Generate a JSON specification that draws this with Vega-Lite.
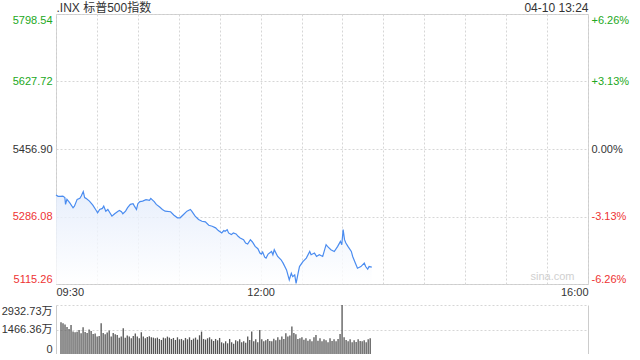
{
"$schema": "https://vega.github.io/schema/vega-lite/v6.json",
"padding": {"left": 1, "top": 0, "right": 0, "bottom": 0},
"background": "white",
"spacing": 21,
"bounds": "flush",
"config": {
  "font": "Liberation Sans, Noto Sans CJK SC",
  "axis": {"labelFont": "Liberation Sans, Noto Sans CJK SC", "labelFontSize": 11, "labelColor": "#333333", "ticks": false, "title": null, "gridColor": "#d6d6d6", "gridDash": [2, 2], "domainColor": "#cccccc"},
  "view": {"stroke": null}
},
"datasets": {
  "price": [
    {"t":0,"v":5340.4},{"t":1.5,"v":5337.1},{"t":3,"v":5337.1},{"t":5,"v":5337.8},{"t":6.5,"v":5333.8},{"t":7,"v":5316.7},{"t":8,"v":5329.4},{"t":10,"v":5321.0},{"t":12.5,"v":5308.3},{"t":13.5,"v":5312.3},{"t":15.5,"v":5329.4},{"t":17.5,"v":5332.0},{"t":18.5,"v":5337.8},{"t":20,"v":5349.1},{"t":21,"v":5333.8},{"t":22,"v":5332.0},{"t":24.5,"v":5325.1},{"t":27,"v":5314.9},{"t":29.5,"v":5301.4},{"t":30.5,"v":5295.5},{"t":32,"v":5303.9},{"t":34,"v":5306.5},{"t":35,"v":5312.3},{"t":36.5,"v":5299.6},{"t":38,"v":5303.9},{"t":39.5,"v":5295.5},{"t":41,"v":5286.9},{"t":43,"v":5293.0},{"t":45.5,"v":5299.6},{"t":46.5,"v":5301.4},{"t":48,"v":5298.1},{"t":49,"v":5293.0},{"t":51,"v":5299.6},{"t":52.5,"v":5308.3},{"t":54.5,"v":5316.7},{"t":56.5,"v":5318.5},{"t":57.5,"v":5312.3},{"t":59,"v":5303.9},{"t":60,"v":5318.5},{"t":61.5,"v":5323.6},{"t":63.5,"v":5325.1},{"t":66,"v":5328.7},{"t":68.5,"v":5326.9},{"t":69.5,"v":5332.0},{"t":71,"v":5326.9},{"t":72,"v":5323.6},{"t":73.5,"v":5316.7},{"t":76,"v":5310.0},{"t":78,"v":5303.9},{"t":80,"v":5299.6},{"t":84,"v":5298.1},{"t":86.5,"v":5289.4},{"t":89,"v":5282.8},{"t":91,"v":5282.8},{"t":93.5,"v":5291.2},{"t":96,"v":5299.6},{"t":98.5,"v":5303.9},{"t":99.5,"v":5299.6},{"t":102,"v":5286.9},{"t":104.5,"v":5278.4},{"t":107,"v":5274.1},{"t":109.5,"v":5272.6},{"t":112,"v":5263.9},{"t":114.5,"v":5261.4},{"t":117,"v":5257.3},{"t":119,"v":5250.4},{"t":121.5,"v":5244.5},{"t":123,"v":5250.4},{"t":124,"v":5248.6},{"t":125.5,"v":5252.9},{"t":126.5,"v":5244.5},{"t":128.5,"v":5240.2},{"t":130,"v":5244.5},{"t":132,"v":5242.0},{"t":133.5,"v":5235.9},{"t":135,"v":5231.8},{"t":137.5,"v":5227.4},{"t":139,"v":5219.0},{"t":140.5,"v":5216.5},{"t":142.5,"v":5227.4},{"t":144,"v":5221.6},{"t":146,"v":5210.4},{"t":148,"v":5204.5},{"t":149.5,"v":5193.5},{"t":150.5,"v":5191.0},{"t":151.5,"v":5196.1},{"t":153,"v":5183.3},{"t":154,"v":5180.8},{"t":155.5,"v":5191.0},{"t":158,"v":5197.6},{"t":159,"v":5189.2},{"t":160,"v":5201.9},{"t":162.5,"v":5184.9},{"t":165,"v":5176.5},{"t":166.5,"v":5168.0},{"t":169,"v":5151.0},{"t":171,"v":5125.5},{"t":172.5,"v":5142.5},{"t":173.5,"v":5133.9},{"t":175,"v":5138.2},{"t":176,"v":5117.0},{"t":177.5,"v":5142.5},{"t":178.5,"v":5159.4},{"t":181,"v":5172.1},{"t":183.5,"v":5180.8},{"t":186,"v":5197.6},{"t":187,"v":5189.2},{"t":189.5,"v":5193.5},{"t":191,"v":5184.9},{"t":193,"v":5189.2},{"t":195.5,"v":5184.9},{"t":198,"v":5214.7},{"t":199,"v":5210.4},{"t":201.5,"v":5201.9},{"t":204,"v":5197.6},{"t":206.5,"v":5210.4},{"t":208.5,"v":5223.1},{"t":209.5,"v":5214.7},{"t":210.5,"v":5252.9},{"t":211.5,"v":5227.4},{"t":212.5,"v":5219.0},{"t":214,"v":5210.4},{"t":216.5,"v":5197.6},{"t":217.5,"v":5184.9},{"t":219.5,"v":5168.0},{"t":221,"v":5155.3},{"t":223.5,"v":5159.4},{"t":226,"v":5168.0},{"t":227,"v":5159.4},{"t":228.5,"v":5152.7},{"t":229.5,"v":5159.4},{"t":231.5,"v":5157.8}
  ],
  "vol": [
    {"t":0,"v":1900},{"t":1.5,"v":1840},{"t":3,"v":1760},{"t":4.5,"v":1620},{"t":6,"v":1500},{"t":7.5,"v":1740},{"t":9,"v":1340},{"t":10.5,"v":1300},{"t":12,"v":1330},{"t":13.5,"v":1440},
    {"t":15,"v":1240},{"t":16.5,"v":1600},{"t":18,"v":1320},{"t":19.5,"v":1250},{"t":21,"v":1460},{"t":22.5,"v":1380},{"t":24,"v":1200},{"t":25.5,"v":1220},{"t":27,"v":1040},{"t":28.5,"v":1080},
    {"t":30,"v":1840},{"t":31.5,"v":1250},{"t":33,"v":1180},{"t":34.5,"v":1280},{"t":36,"v":1400},{"t":37.5,"v":1040},{"t":39,"v":1250},{"t":40.5,"v":1180},{"t":42,"v":1140},{"t":43.5,"v":980},
    {"t":45,"v":1040},{"t":46.5,"v":1540},{"t":48,"v":980},{"t":49.5,"v":1110},{"t":51,"v":1040},{"t":52.5,"v":940},{"t":54,"v":1080},{"t":55.5,"v":1230},{"t":57,"v":1050},{"t":58.5,"v":940},
    {"t":60,"v":1300},{"t":61.5,"v":1050},{"t":63,"v":940},{"t":64.5,"v":1020},{"t":66,"v":1060},{"t":67.5,"v":1000},{"t":69,"v":980},{"t":70.5,"v":940},{"t":72,"v":980},{"t":73.5,"v":900},
    {"t":75,"v":840},{"t":76.5,"v":980},{"t":78,"v":940},{"t":79.5,"v":1040},{"t":81,"v":980},{"t":82.5,"v":900},{"t":84,"v":960},{"t":85.5,"v":840},{"t":87,"v":1000},{"t":88.5,"v":880},
    {"t":90,"v":900},{"t":91.5,"v":820},{"t":93,"v":960},{"t":94.5,"v":880},{"t":96,"v":1000},{"t":97.5,"v":840},{"t":99,"v":920},{"t":100.5,"v":980},{"t":102,"v":860},{"t":103.5,"v":1120},
    {"t":105,"v":1340},{"t":106.5,"v":900},{"t":108,"v":860},{"t":109.5,"v":940},{"t":111,"v":1000},{"t":112.5,"v":880},{"t":114,"v":780},{"t":115.5,"v":900},{"t":117,"v":820},{"t":118.5,"v":960},
    {"t":120,"v":700},{"t":121.5,"v":640},{"t":123,"v":760},{"t":124.5,"v":640},{"t":126,"v":900},{"t":127.5,"v":700},{"t":129,"v":620},{"t":130.5,"v":820},{"t":132,"v":760},{"t":133.5,"v":880},
    {"t":135,"v":700},{"t":136.5,"v":760},{"t":138,"v":680},{"t":139.5,"v":1040},{"t":141,"v":840},{"t":142.5,"v":1340},{"t":144,"v":760},{"t":145.5,"v":880},{"t":147,"v":700},{"t":148.5,"v":1440},
    {"t":150,"v":880},{"t":151.5,"v":760},{"t":153,"v":820},{"t":154.5,"v":900},{"t":156,"v":780},{"t":157.5,"v":760},{"t":159,"v":920},{"t":160.5,"v":820},{"t":162,"v":1000},{"t":163.5,"v":860},
    {"t":165,"v":1040},{"t":166.5,"v":900},{"t":168,"v":1240},{"t":169.5,"v":1040},{"t":171,"v":1100},{"t":172.5,"v":1640},{"t":174,"v":1250},{"t":175.5,"v":1180},{"t":177,"v":900},{"t":178.5,"v":940},
    {"t":180,"v":1000},{"t":181.5,"v":860},{"t":183,"v":940},{"t":184.5,"v":800},{"t":186,"v":880},{"t":187.5,"v":760},{"t":189,"v":1000},{"t":190.5,"v":1140},{"t":192,"v":800},{"t":193.5,"v":940},
    {"t":195,"v":760},{"t":196.5,"v":880},{"t":198,"v":820},{"t":199.5,"v":700},{"t":201,"v":940},{"t":202.5,"v":780},{"t":204,"v":880},{"t":205.5,"v":760},{"t":207,"v":900},{"t":208.5,"v":1200},
    {"t":210,"v":2932},{"t":211.5,"v":1000},{"t":213,"v":840},{"t":214.5,"v":760},{"t":216,"v":880},{"t":217.5,"v":700},{"t":219,"v":820},{"t":220.5,"v":720},{"t":222,"v":880},{"t":223.5,"v":780},
    {"t":225,"v":760},{"t":226.5,"v":820},{"t":228,"v":700},{"t":229.5,"v":880},{"t":231,"v":940}
  ]
},
"vconcat": [
  {
    "width": 532,
    "height": 270,
    "view": {"stroke": "#cccccc"},
    "layer": [
      {
        "data": {"name": "price"},
        "mark": {"type": "area", "opacity": 0.8, "color": {"gradient": "linear", "x1": 0, "y1": 1, "x2": 0, "y2": 0, "stops": [{"offset": 0, "color": "#ffffff"}, {"offset": 1, "color": "#e2ebfb"}]}},
        "encoding": {
          "x": {"field": "t", "type": "quantitative", "scale": {"domain": [0, 390], "nice": false, "zero": false},
                "axis": {"orient": "bottom", "values": [0,30,60,90,120,150,180,210,240,270,300,330,360,390], "labelExpr": "datum.value == 0 ? '09:30' : datum.value == 150 ? '12:00' : datum.value == 390 ? '16:00' : ''", "labelFlush": true, "labelPadding": 2, "domain": false, "grid": true}},
          "y": {"field": "v", "type": "quantitative", "scale": {"domain": [5115.26, 5798.54], "nice": false, "zero": false},
                "axis": {"orient": "left", "values": [5115.26, 5286.08, 5456.9, 5627.72, 5798.54], "format": ".2f", "labelFlush": true, "labelPadding": 4, "domain": false, "grid": true,
                         "labelColor": {"condition": [{"test": "datum.value > 5500", "value": "#22a822"}, {"test": "datum.value < 5400", "value": "#ee3333"}], "value": "#333333"}}},
          "y2": {"datum": 5115.26}
        }
      },
      {
        "data": {"name": "price"},
        "mark": {"type": "line", "color": "#4a8cf0", "strokeWidth": 1.2},
        "encoding": {
          "x": {"field": "t", "type": "quantitative",
                "axis": {"orient": "top", "values": [0, 390], "labelExpr": "datum.value == 0 ? '.INX 标普500指数' : '04-10 13:24'", "labelFlush": true, "labelPadding": 0, "labelFontSize": 12, "grid": false, "domain": false}},
          "y": {"field": "v", "type": "quantitative",
                "axis": {"orient": "right", "values": [5115.26, 5286.08, 5456.9, 5627.72, 5798.54], "labelExpr": "datum.value > 5700 ? '+6.26%' : datum.value > 5600 ? '+3.13%' : datum.value > 5400 ? '0.00%' : datum.value > 5200 ? '-3.13%' : '-6.26%'", "labelFlush": true, "labelPadding": 3, "grid": false, "domain": false,
                         "labelColor": {"condition": [{"test": "datum.value > 5500", "value": "#22a822"}, {"test": "datum.value < 5400", "value": "#ee3333"}], "value": "#333333"}}}
        }
      },
      {
        "data": {"values": [{"t": 364, "v": 5133, "s": "sina.com"}]},
        "mark": {"type": "text", "color": "#d0d0d0", "fontSize": 11},
        "encoding": {
          "x": {"field": "t", "type": "quantitative", "axis": null},
          "y": {"field": "v", "type": "quantitative", "axis": null},
          "text": {"field": "s"}
        }
      }
    ],
    "resolve": {"axis": {"x": "independent", "y": "independent"}}
  },
  {
    "width": 532,
    "height": 49,
    "data": {"name": "vol"},
    "layer": [
      {
        "mark": {"type": "bar", "color": "#555555", "width": 1.3},
        "encoding": {
          "x": {"field": "t", "type": "quantitative", "scale": {"domain": [0, 390], "nice": false, "zero": false}, "axis": null},
          "y": {"field": "v", "type": "quantitative", "scale": {"domain": [0, 2932.73], "nice": false},
                "axis": {"orient": "left", "values": [0, 1466.36, 2932.73], "labelExpr": "datum.value == 0 ? '0' : format(datum.value, '.2f') + '万'", "labelFlush": true, "labelPadding": 4, "grid": true, "domain": true}}
        }
      },
      {
        "mark": {"type": "bar", "opacity": 0, "width": 1},
        "encoding": {
          "x": {"field": "t", "type": "quantitative", "axis": null},
          "y": {"field": "v", "type": "quantitative", "axis": {"orient": "right", "labels": false, "grid": false, "domain": true}}
        }
      }
    ],
    "resolve": {"axis": {"y": "independent"}}
  }
]
}
